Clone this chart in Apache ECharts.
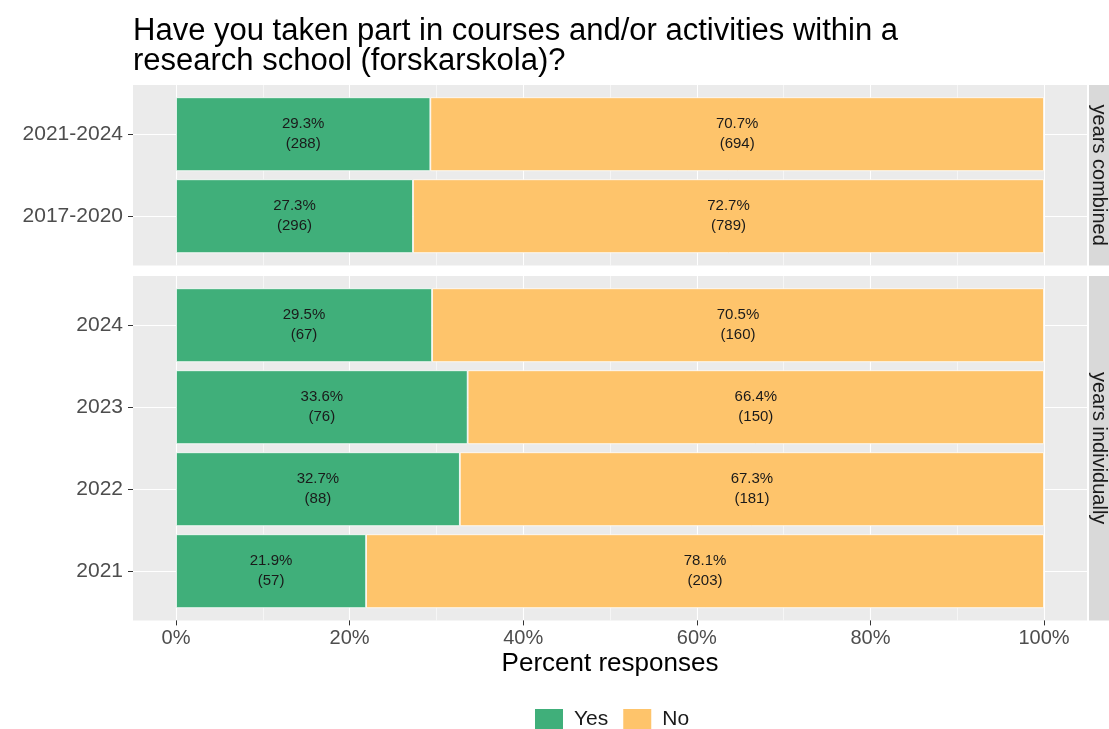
<!DOCTYPE html>
<html>
<head>
<meta charset="utf-8">
<script src="https://cdn.jsdelivr.net/npm/echarts@6/dist/echarts.min.js"></script>
<style>html,body{margin:0;padding:0;background:#fff}#c{width:1109px;height:729px}</style>
</head>
<body>
<div id="c"></div>
<script>
const chartTitle = 'Have you taken part in courses and/or activities within a\nresearch school (forskarskola)?';
const xAxisTitle = 'Percent responses';
const seriesNames = ['Yes', 'No'];
const stripLabels = ['years combined', 'years individually'];
const xTicks = [0, 20, 40, 60, 80, 100];

const combinedCategories = ['2021-2024', '2017-2020'];
const combinedYesPct = [29.3, 27.3];
const combinedNoPct = [70.7, 72.7];
const combinedYesN = [288, 296];
const combinedNoN = [694, 789];

const individualCategories = ['2024', '2023', '2022', '2021'];
const individualYesPct = [29.5, 33.6, 32.7, 21.9];
const individualNoPct = [70.5, 66.4, 67.3, 78.1];
const individualYesN = [67, 76, 88, 57];
const individualNoN = [160, 150, 181, 203];

const COLORS = ['#40AF7A', '#FEC46B'];
const FONT = 'Liberation Sans, Arial, sans-serif';
const PANEL_LEFT = 133, PANEL_RIGHT = 1087, DATA_LEFT = 176, DATA_RIGHT = 1044;
const UNIT = 82;

const panels = [
  {top: 85, cats: combinedCategories, yes: combinedYesPct, no: combinedNoPct, yesN: combinedYesN, noN: combinedNoN, strip: stripLabels[0]},
  {top: 276, cats: individualCategories, yes: individualYesPct, no: individualNoPct, yesN: individualYesN, noN: individualNoN, strip: stripLabels[1]}
];

const grid = [], xAxis = [], yAxis = [], series = [], graphic = [];
const hidden = {show: false};

panels.forEach((p, pi) => {
  const n = p.cats.length;
  const h = UNIT * (n + 0.2);
  const isBottom = pi === panels.length - 1;
  // 0: background
  grid.push({left: PANEL_LEFT, width: PANEL_RIGHT - PANEL_LEFT, top: p.top, height: h, show: true, backgroundColor: '#EBEBEB', borderWidth: 0, z: -1});
  xAxis.push({gridIndex: grid.length - 1, type: 'value', show: false, min: 0, max: 1});
  yAxis.push({gridIndex: grid.length - 1, type: 'value', show: false, min: 0, max: 1});
  // 1: horizontal gridlines at category centres + y labels
  grid.push({left: PANEL_LEFT, width: PANEL_RIGHT - PANEL_LEFT, top: p.top + 0.6 * UNIT, height: (n - 1) * UNIT, show: false});
  xAxis.push({gridIndex: grid.length - 1, type: 'value', show: false, min: 0, max: 1});
  yAxis.push({gridIndex: grid.length - 1, type: 'category', data: p.cats, inverse: true, boundaryGap: false,
    axisLine: hidden,
    axisTick: {show: true, length: 5, lineStyle: {color: '#333333', width: 1}},
    axisLabel: {fontSize: 21, color: '#4D4D4D', margin: 10, fontFamily: FONT},
    splitLine: {show: true, lineStyle: {color: '#FFFFFF', width: 1.1}}});
  // 2: vertical gridlines (and x axis on bottom panel)
  grid.push({left: DATA_LEFT, width: DATA_RIGHT - DATA_LEFT, top: p.top, height: h, show: false});
  xAxis.push({gridIndex: grid.length - 1, type: 'value', min: xTicks[0], max: xTicks[xTicks.length - 1], interval: xTicks[1] - xTicks[0],
    axisLine: hidden,
    axisTick: {show: isBottom, length: 5, lineStyle: {color: '#333333', width: 1}},
    axisLabel: {show: isBottom, formatter: v => v + '%', fontSize: 20, color: '#4D4D4D', margin: 8, fontFamily: FONT},
    minorTick: {show: false, splitNumber: 2},
    minorSplitLine: {show: true, lineStyle: {color: '#FFFFFF', width: 0.55}},
    splitLine: {show: true, lineStyle: {color: '#FFFFFF', width: 1.1}},
    name: isBottom ? xAxisTitle : '', nameLocation: 'middle', nameGap: 30,
    nameTextStyle: {fontSize: 26, color: '#000000', fontFamily: FONT}});
  yAxis.push({gridIndex: grid.length - 1, type: 'value', show: false, min: 0, max: 1});
  // 3: data
  grid.push({left: DATA_LEFT, width: DATA_RIGHT - DATA_LEFT, top: p.top + 0.1 * UNIT, height: n * UNIT, show: false});
  const gi = grid.length - 1;
  xAxis.push({gridIndex: gi, type: 'value', show: false, min: 0, max: 100});
  yAxis.push({gridIndex: gi, type: 'category', data: p.cats, inverse: true, show: false});
  const mk = (name, vals, counts, color) => ({
    name, type: 'bar', stack: 's' + pi, xAxisIndex: gi, yAxisIndex: gi, barWidth: '90%',
    data: vals, itemStyle: {color, borderColor: '#FFFFFF', borderWidth: 0.8},
    label: {show: true, position: 'inside', fontSize: 15, color: '#1A1A1A', lineHeight: 20, fontFamily: FONT,
      formatter: prm => vals[prm.dataIndex].toFixed(1) + '%\n(' + counts[prm.dataIndex] + ')'},
    emphasis: {disabled: true}, animation: false
  });
  series.push(mk(seriesNames[0], p.yes, p.yesN, COLORS[0]));
  series.push(mk(seriesNames[1], p.no, p.noN, COLORS[1]));
  // strip
  graphic.push({type: 'rect', shape: {x: 1089, y: p.top, width: 30, height: h}, style: {fill: '#D9D9D9'}, silent: true});
  graphic.push({type: 'text', x: 1099, y: p.top + h / 2, rotation: -Math.PI / 2,
    style: {text: p.strip, fontSize: 20, fill: '#1A1A1A', align: 'center', verticalAlign: 'middle', fontFamily: FONT}, silent: true});
});

const chart = echarts.init(document.getElementById('c'), null, {renderer: 'canvas'});
chart.setOption({
  animation: false,
  backgroundColor: '#FFFFFF',
  textStyle: {fontFamily: FONT},
  color: COLORS,
  title: {text: chartTitle, left: 133, top: 16, padding: 0, textStyle: {fontSize: 31, fontWeight: 'normal', color: '#000000', lineHeight: 30, fontFamily: FONT}},
  legend: {data: seriesNames, left: 533, top: 707, itemWidth: 30, itemHeight: 22, itemGap: 13, icon: 'rect', padding: 0,
    textStyle: {fontSize: 21, color: '#1A1A1A', fontFamily: FONT, padding: [0, 0, 0, 5]}, selectedMode: false},
  grid, xAxis, yAxis, series, graphic
});
</script>
</body>
</html>
